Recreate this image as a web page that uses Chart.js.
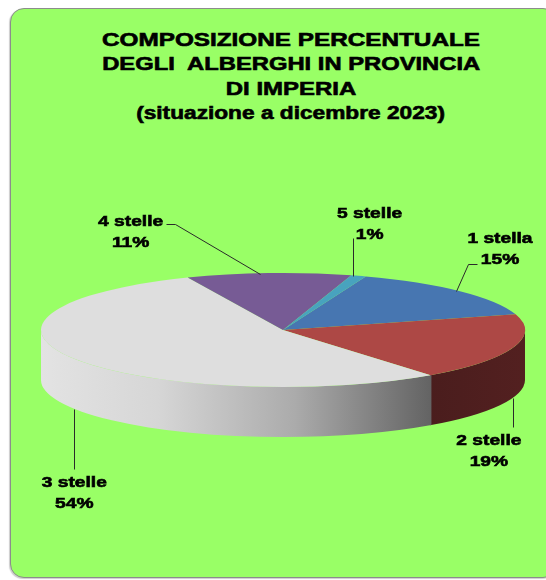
<!DOCTYPE html>
<html><head><meta charset="utf-8">
<script src="https://cdn.jsdelivr.net/npm/chart.js@4.4.0/dist/chart.umd.min.js"></script>
<style>
html,body{margin:0;padding:0;background:#fff;}
#wrap{position:relative;width:546px;height:580px;overflow:hidden;}
#box{position:absolute;left:10px;top:8px;width:545px;height:568px;background:#99ff66;border:1px solid #8c8c8c;border-radius:14px;box-shadow:-1px 1px 1px rgba(0,0,0,0.2);}
#title{position:absolute;left:18px;top:27.5px;width:546px;font:bold 18px 'Liberation Sans',Arial,sans-serif;line-height:24.5px;text-align:center;color:#000;-webkit-text-stroke:0.6px #000;}
#title span{display:inline-block;white-space:pre;}
#cv{position:absolute;left:0;top:0;}
</style></head>
<body><div id="wrap"><div id="box"></div><div id="title"></div>
<canvas id="cv" width="546" height="580"></canvas></div>
<script>
// ---- data ----
const titleLines = ['COMPOSIZIONE PERCENTUALE', 'DEGLI  ALBERGHI IN PROVINCIA', 'DI IMPERIA', '(situazione a dicembre 2023)'];
const categories = ['1 stella', '2 stelle', '3 stelle', '4 stelle', '5 stelle'];
const percentages = [15, 19, 54, 11, 1];

// ---- styles ----
const titleStretch = [1.35, 1.32, 1.33, 1.26];
const topColors = ['#4776b1', '#ad4845', '#dedede', '#775b95', '#48a3be'];
const sideStops = [
  [[0, '#2b4a72'], [1, '#2b4a72']],
  [[0, '#4a1d1d'], [1, '#532020']],
  [[0, '#e3e3e3'], [0.3, '#d6d6d6'], [0.65, '#ababab'], [1, '#636363']],
  [[0, '#4a3a60'], [1, '#4a3a60']],
  [[0, '#2e6a7a'], [1, '#2e6a7a']]
];
const labelLayout = [
  {text: [40, -48], leader: [[-4, 0], [8, -27], [17, -27]]},
  {text: [-24, 47], leader: [[0, 0], [0, 29]]},
  {text: [0, 78], leader: [[0, 0], [0, 60]]},
  {text: [-138, -47], leader: [[-9, 1], [-94, -49], [-103, -49]]},
  {text: [11, -58], leader: [[-6, 0], [-6, -38]]}
];
const SQUASH = 57 / 242, DEPTH = 50, EPS = 0.004;

const t = document.getElementById('title');
titleLines.forEach((l, i) => {
  const d = document.createElement('div');
  const s = document.createElement('span');
  s.textContent = l;
  s.style.transform = 'scaleX(' + titleStretch[i] + ')';
  d.appendChild(s); t.appendChild(d);
});

const pie3d = {
  id: 'pie3d',
  beforeDatasetsDraw(chart) {
    const ctx = chart.ctx;
    const arcs = chart.getDatasetMeta(0).data;
    const cx = arcs[0].x, cy = arcs[0].y, R = arcs[0].outerRadius;
    arcs.forEach((arc, i) => {
      const s = arc.startAngle - EPS, e = arc.endAngle + EPS;
      for (let k = -2; k <= 2; k++) {
        const lo = Math.max(s, 2 * Math.PI * k), hi = Math.min(e, 2 * Math.PI * k + Math.PI);
        if (hi > lo) {
          ctx.beginPath();
          ctx.ellipse(cx, cy, R, R * SQUASH, 0, lo, hi, false);
          ctx.ellipse(cx, cy + DEPTH, R, R * SQUASH, 0, hi, lo, true);
          ctx.closePath();
          const xl = cx + R * Math.cos(hi), xr = cx + R * Math.cos(lo);
          const g = ctx.createLinearGradient(xl, 0, xr, 0);
          sideStops[i].forEach(([o, c]) => g.addColorStop(o, c));
          ctx.fillStyle = g;
          ctx.fill();
        }
      }
    });
    ctx.save();
    ctx.translate(cx, cy); ctx.scale(1, SQUASH); ctx.translate(-cx, -cy);
  },
  afterDatasetsDraw(chart) {
    const ctx = chart.ctx;
    ctx.restore();
    const arcs = chart.getDatasetMeta(0).data;
    arcs.forEach((arc, i) => {
      const cx = arc.x, cy = arc.y, R = arc.outerRadius;
      const mid = (arc.startAngle + arc.endAngle) / 2;
      const front = Math.sin(mid) > 0;
      const ax = cx + R * Math.cos(mid);
      const ay = cy + R * SQUASH * Math.sin(mid) + (front ? DEPTH : 0);
      const L = labelLayout[i];
      ctx.save();
      ctx.strokeStyle = '#2a2a2a'; ctx.lineWidth = 1;
      ctx.beginPath();
      L.leader.forEach(([dx, dy], j) => {
        const px = Math.round(ax + dx) + 0.5, py = Math.round(ay + dy) + 0.5;
        if (j === 0) ctx.moveTo(px, py); else ctx.lineTo(px, py);
      });
      ctx.stroke();
      ctx.fillStyle = '#000'; ctx.strokeStyle = '#000'; ctx.lineWidth = 0.6;
      ctx.font = "bold 15px 'Liberation Sans', Arial, sans-serif";
      ctx.textAlign = 'center'; ctx.textBaseline = 'alphabetic';
      const lines = [categories[i], percentages[i] + '%'];
      lines.forEach((txt, j) => {
        ctx.save();
        ctx.translate(ax + L.text[0], ay + L.text[1] + j * 21);
        ctx.scale(1.28, 1);
        ctx.fillText(txt, 0, 0);
        ctx.strokeText(txt, 0, 0);
        ctx.restore();
      });
      ctx.restore();
    });
  }
};

new Chart(document.getElementById('cv'), {
  type: 'pie',
  data: {
    labels: categories,
    datasets: [{data: percentages, backgroundColor: topColors, borderWidth: 0, hoverOffset: 0}]
  },
  options: {
    responsive: false,
    animation: false,
    events: [],
    rotation: 20,
    radius: 242,
    layout: {padding: {left: 41, right: 21, top: 88, bottom: 8}},
    plugins: {legend: {display: false}, tooltip: {enabled: false}, title: {display: false}}
  },
  plugins: [pie3d]
});
</script></body></html>
